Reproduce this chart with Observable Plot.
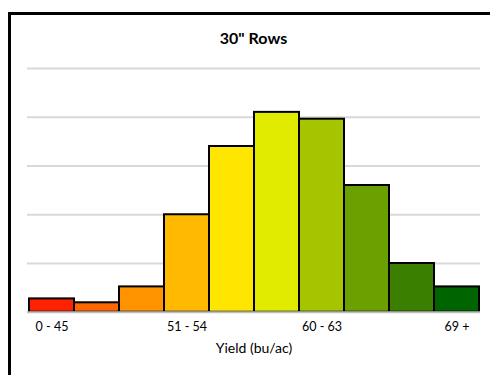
<!DOCTYPE html>
<html>
<head>
<meta charset="utf-8">
<script src="https://cdn.jsdelivr.net/npm/d3@7"></script>
<script src="https://cdn.jsdelivr.net/npm/@observablehq/plot@0.6"></script>
<style>
  html, body { margin: 0; padding: 0; background: #fff; overflow: hidden; }
  #wrap { position: relative; width: 490px; height: 375px; overflow: hidden; font-family: Lato, "Open Sans", sans-serif; }
  #frame { position: absolute; left: 8px; top: 12px; width: 600px; height: 500px; border-left: 3px solid #000; border-top: 3px solid #000; }
  #title { position: absolute; left: 27px; width: 453px; top: 28px; text-align: center; font-weight: bold; font-size: 16px; color: #000; }
  #chart { position: absolute; left: 0; top: 0; }
</style>
</head>
<body>
<div id="wrap">
  <div id="frame"></div>
  <div id="chart"></div>
  <div id="title">30" Rows</div>
</div>
<script>
const categories = ["0 - 45", "45 - 48", "48 - 51", "51 - 54", "54 - 57", "57 - 60", "60 - 63", "63 - 66", "66 - 69", "69 +"];
const values = [1.37, 0.97, 2.6, 10.0, 17.0, 20.5, 19.8, 13.0, 5.0, 2.6];
const colors = ["#FF2200", "#FF6600", "#FF9400", "#FFB900", "#FFE600", "#E0EB00", "#A6C400", "#6AA000", "#3A7F00", "#006400"];
const shownLabels = ["0 - 45", "51 - 54", "60 - 63", "69 +"];
const gridValues = [5, 10, 15, 20, 25];
const xLabel = "Yield (bu/ac)";

const data = categories.map((c, i) => ({cat: c, value: values[i], color: colors[i]}));

const plot = Plot.plot({
  width: 490,
  height: 375,
  marginTop: 68,
  marginBottom: 63.25,
  marginLeft: 27,
  marginRight: 10,
  style: {fontFamily: "Lato, 'Open Sans', sans-serif", background: "transparent"},
  x: {domain: categories, padding: 0, axis: null},
  y: {domain: [0, 25], axis: null},
  marks: [
    Plot.ruleY(gridValues, {stroke: "#d9d9d9", strokeWidth: 2}),
    Plot.barY(data, {x: "cat", y: "value", fill: "color", stroke: "#000", strokeWidth: 2, inset: 0}),
    Plot.ruleY([0], {stroke: "#bfbfbf", strokeWidth: 2}),
    Plot.text(data.filter(d => shownLabels.includes(d.cat)), {x: "cat", frameAnchor: "bottom", dy: 19, text: "cat", fontSize: 12.5, fill: "#000"}),
    Plot.text([xLabel], {frameAnchor: "bottom", dy: 41, fontSize: 14, fill: "#000"})
  ]
});
document.getElementById("chart").appendChild(plot);
</script>
</body>
</html>
